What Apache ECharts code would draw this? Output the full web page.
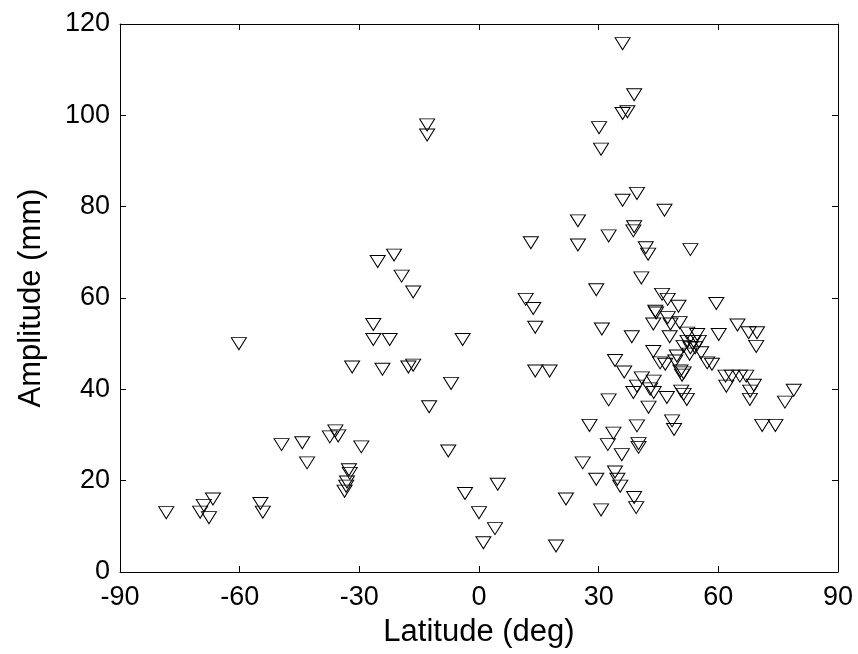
<!DOCTYPE html>
<html><head><meta charset="utf-8">
<script src="https://cdn.jsdelivr.net/npm/echarts@6/dist/echarts.min.js"></script>
<style>html,body{margin:0;padding:0;background:#fff}#c{width:858px;height:654px}</style>
</head><body><div id="c"></div>
<script>
const latitude = [36.0,38.9,36.0,37.2,30.1,30.6,36.0,39.6,46.5,-13.0,-13.0,-60.2,-31.8,24.8,24.8,13.0,-21.3,-25.4,-19.4,-16.5,11.7,13.6,14.1,-26.5,-26.5,-22.4,-4.1,-24.2,-17.7,-16.5,-7.0,14.1,17.7,-12.5,-29.5,-7.7,-32.6,-32.4,-33.1,-33.3,-33.7,-3.5,4.7,0.0,4.0,1.1,21.8,19.3,-78.4,-66.7,-69.0,-69.9,-67.7,-54.8,-54.2,-49.5,-44.3,-43.1,-37.4,-36.0,-35.3,38.9,38.7,32.5,41.8,42.4,53.0,
40.7,29.4,45.9,47.3,50.0,59.5,44.2,44.4,47.3,43.7,48.0,50.3,30.8,38.3,47.8,52.2,54.7,60.1,64.8,67.6,69.7,69.5,52.3,53.8,55.1,51.3,53.0,54.2,43.7,52.8,49.6,55.7,45.4,46.7,49.2,34.1,57.2,58.4,36.4,50.5,51.3,50.9,40.8,61.8,63.4,65.4,67.0,62.0,68.9,68.0,67.9,78.9,76.7,43.8,39.6,42.9,43.8,38.7,47.1,50.7,51.3,52.1,32.5,42.5,48.4,48.9,39.6,33.7,32.3,40.0,40.0,27.7,71.0,74.3,35.8,26.0,29.4,34.1,34.7,35.4,38.9,39.4,30.6];
const amplitude = [115.7,104.5,100.4,100.8,97.3,92.6,81.4,82.9,79.2,97.9,95.7,50.0,44.9,76.9,71.6,72.1,69.4,68.0,64.8,61.3,59.7,57.7,53.6,54.2,50.9,50.9,50.9,44.4,44.9,45.3,41.3,44.0,44.0,36.2,27.4,26.5,22.4,21.6,19.7,18.8,17.7,17.2,19.2,13.0,9.5,6.4,16.0,5.7,13.0,16.0,14.6,13.1,11.9,15.0,13.1,27.9,28.3,23.9,29.6,30.9,29.8,75.6,74.7,73.6,71.0,69.6,70.6,
64.4,61.8,60.8,59.7,58.2,58.8,57.1,56.7,55.7,54.3,54.3,54.6,53.2,51.5,51.5,52.3,52.0,52.0,54.1,52.4,52.4,49.4,50.5,50.5,50.5,49.4,49.1,49.1,48.3,47.7,47.3,48.0,45.8,45.5,46.2,46.3,45.8,45.5,43.8,44.0,43.6,43.1,42.5,42.9,42.9,42.9,42.9,40.7,40.9,39.6,37.8,39.8,37.2,41.8,40.7,40.1,39.3,39.3,38.2,39.6,38.9,37.8,37.7,36.1,33.1,31.2,32.0,30.4,27.9,28.1,27.3,32.1,32.1,32.1,25.7,23.9,20.3,21.9,20.3,18.8,16.3,14.1,13.6];
const xTickValues = [-90,-60,-30,0,30,60,90];
const yTickValues = [0,20,40,60,80,100,120];
const xTitle = 'Latitude (deg)';
const yTitle = 'Amplitude (mm)';

const points = latitude.map((v,i)=>[v, amplitude[i]]);
const font = 'Liberation Sans, Arial, sans-serif';
const fs = 27;
const tfs = 31;
const lineStyle = {color:'#000', width:1};
const chart = echarts.init(document.getElementById('c'));
chart.setOption({
  animation:false,
  backgroundColor:'#fff',
  grid:{left:120,right:20,top:24,bottom:82},
  xAxis:[{
    type:'value', min:xTickValues[0], max:xTickValues[xTickValues.length-1], interval:30,
    name:xTitle, nameLocation:'middle', nameGap:45,
    nameTextStyle:{fontFamily:font,fontSize:tfs,color:'#000'},
    axisLine:{show:true,onZero:false,lineStyle},
    axisTick:{show:true,inside:true,length:6,lineStyle},
    axisLabel:{fontFamily:font,fontSize:fs,color:'#000',margin:12},
    splitLine:{show:false}
  },{
    type:'value', position:'top', min:-90, max:90, interval:30,
    axisLine:{show:true,onZero:false,lineStyle},
    axisTick:{show:true,inside:true,length:6,lineStyle},
    axisLabel:{show:false}, splitLine:{show:false}
  }],
  yAxis:[{
    type:'value', min:yTickValues[0], max:yTickValues[yTickValues.length-1], interval:20,
    name:yTitle, nameLocation:'middle', nameGap:73, nameRotate:90,
    nameTextStyle:{fontFamily:font,fontSize:tfs,color:'#000'},
    axisLine:{show:true,onZero:false,lineStyle},
    axisTick:{show:true,inside:true,length:6,lineStyle},
    axisLabel:{fontFamily:font,fontSize:fs,color:'#000',margin:10},
    splitLine:{show:false}
  },{
    type:'value', position:'right', min:0, max:120, interval:20,
    axisLine:{show:true,onZero:false,lineStyle},
    axisTick:{show:true,inside:true,length:6,lineStyle},
    axisLabel:{show:false}, splitLine:{show:false}
  }],
  series:[{
    type:'scatter',
    data:points,
    symbol:'path://M0,0L15,0L7.5,12Z',
    symbolSize:[15,12],
    itemStyle:{color:'rgba(0,0,0,0)',borderColor:'#000',borderWidth:1,opacity:1},
    emphasis:{disabled:true}
  }]
});
</script></body></html>
